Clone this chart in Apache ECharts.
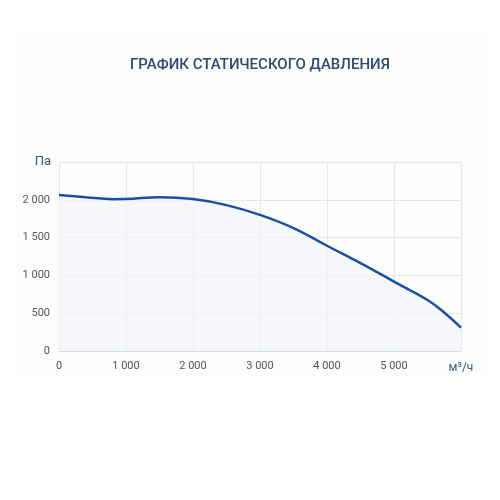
<!DOCTYPE html>
<html>
<head>
<meta charset="utf-8">
<script src="https://cdn.jsdelivr.net/npm/echarts@6/dist/echarts.min.js"></script>
<style>
html, body { margin: 0; padding: 0; background: #fff; }
#main { width: 500px; height: 500px; }
</style>
</head>
<body>
<div id="main"></div>
<script>
// flow, m3/h
let flow = [0, 400, 800, 1000, 1500, 2000, 2500, 3000, 3500, 4000, 4500, 5000, 5500, 5700, 6000]
// static pressure, Pa
let pressure = [2065, 2035, 2008, 2010, 2035, 2010, 1930, 1800, 1625, 1392, 1162, 918, 675, 545, 310]

let xTicks = [0, 1000, 2000, 3000, 4000, 5000]
let yTicks = [0, 500, 1000, 1500, 2000]

function fmt(v) {
  return String(v).replace(/\B(?=(\d{3})+(?!\d))/g, ' ')
}

let myChart = echarts.init(document.getElementById('main'))

let options = {
  backgroundColor: '#fff',
  animation: false,
  graphic: [{
    type: 'rect',
    z: -10,
    shape: { x: 14, y: 30, width: 472, height: 348 },
    style: { fill: '#fdfdfe' }
  }],
  title: {
    text: 'ГРАФИК СТАТИЧЕСКОГО ДАВЛЕНИЯ',
    left: 125,
    top: 53,
    textStyle: { fontFamily: 'Roboto', fontSize: 15, fontWeight: 500, color: '#2e4a70' }
  },
  grid: { left: 59, right: 39, top: 162, bottom: 149 },
  xAxis: {
    type: 'value',
    min: 0, max: 6000, interval: 1000,
    name: 'м³/ч',
    nameLocation: 'end',
    nameGap: 0,
    nameTextStyle: { fontFamily: 'Roboto', fontSize: 12, color: '#3d5577', align: 'center', verticalAlign: 'top', padding: [11, 0, 0, 0] },
    axisLine: { lineStyle: { color: '#d5dae2' } },
    axisTick: { show: false },
    axisLabel: {
      fontFamily: 'Roboto', fontSize: 11, color: '#555', margin: 10,
      formatter: v => xTicks.includes(v) ? fmt(v) : ''
    },
    splitLine: { lineStyle: { color: '#e3e7ed' } }
  },
  yAxis: {
    type: 'value',
    min: 0, max: 2500, interval: 500,
    name: 'Па',
    nameLocation: 'end',
    nameGap: 0,
    nameTextStyle: { fontFamily: 'Roboto', fontSize: 13, color: '#3d5577', align: 'right', padding: [0, 8, 0, 0], verticalAlign: 'middle' },
    axisLine: { show: false },
    axisTick: { show: false },
    axisLabel: {
      fontFamily: 'Roboto', fontSize: 11, color: '#555', margin: 9,
      formatter: v => yTicks.includes(v) ? fmt(v) : ''
    },
    splitLine: { lineStyle: { color: '#e3e7ed' } }
  },
  series: [{
    type: 'line',
    data: flow.map((f, i) => [f, pressure[i]]),
    smooth: 0.4,
    showSymbol: false,
    lineStyle: { color: '#1a50a4', width: 2.5 },
    areaStyle: { color: '#f2f5fa' }
  }]
}

myChart.setOption(options)
</script>
</body>
</html>
